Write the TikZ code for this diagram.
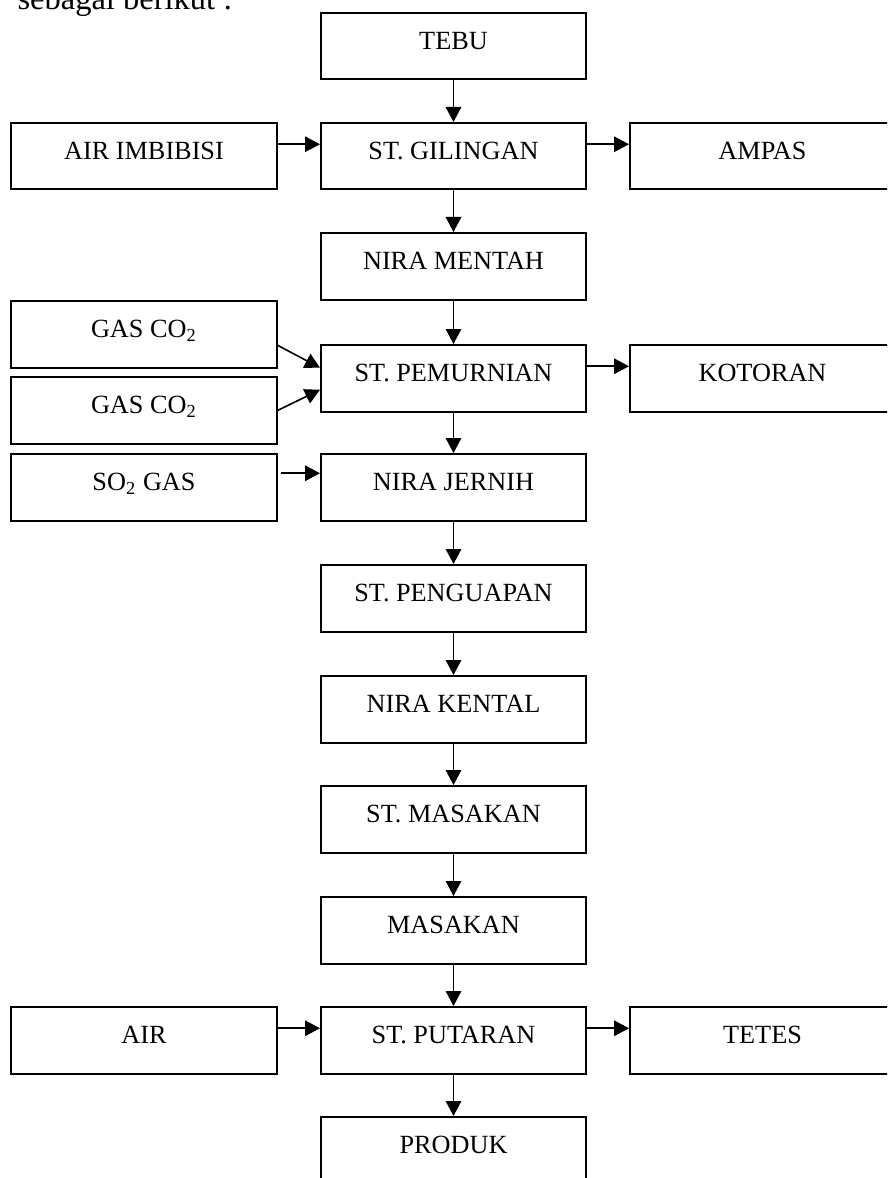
\documentclass[tikz,border=0pt]{standalone}
\usepackage{fontspec}
\setmainfont{Liberation Serif}
\usetikzlibrary{arrows.meta}

\def\boxw{106pt}
\def\rowup{4.8pt}

\begin{document}
\begin{tikzpicture}[x=0.4pt,y=-0.4pt,
        box/.style={draw,line width=0.8pt,minimum width=\boxw,inner sep=0pt,
            text height=14.6pt,text depth=12pt,font=\fontsize{10.5}{12}\selectfont},
        arr/.style={line width=0.65pt,-{Triangle[length=6pt,width=6.2pt]}}]
        \useasboundingbox (0,0) rectangle (887,1178);
        \clip (0,0) rectangle (887,1178);
        % intro line, cut at the top
        \node[anchor=base west,inner sep=0pt,font=\fontsize{13}{15}\selectfont] (intro) at (17,10) {sebagai berikut :};
        % main column
        \node[box] (tebu) at (453.5,46.25) {TEBU};
        \node[box] (gilingan) at (453.5,156.25) {ST. GILINGAN};
        \node[box] (mentah) at (453.5,266.25) {NIRA MENTAH};
        \node[box] (pemurnian) at (453.5,378.25) {ST. PEMURNIAN};
        \node[box] (jernih) at (453.5,487.25) {NIRA JERNIH};
        \node[box] (penguapan) at (453.5,598.25) {ST. PENGUAPAN};
        \node[box] (kental) at (453.5,709.25) {NIRA KENTAL};
        \node[box] (stmasakan) at (453.5,819.25) {ST. MASAKAN};
        \node[box] (masakan) at (453.5,930.25) {MASAKAN};
        \node[box] (putaran) at (453.5,1040.25) {ST. PUTARAN};
        \node[box] (produk) at (453.5,1150.25) {PRODUK};
        % inputs on the left
        \node[box] (imbibisi) at (144,156.25) {AIR IMBIBISI};
        \node[box] (gasa) at (144,334.25) {GAS CO\textsubscript{2}};
        \node[box] (gasb) at (144,410.5) {GAS CO\textsubscript{2}};
        \node[box] (sogas) at (144,487.25) {SO\textsubscript{2} GAS};
        \node[box] (air) at (144,1040.25) {AIR};
        % outputs on the right
        \node[box] (ampas) at (762.5,156.25) {AMPAS};
        \node[box] (kotoran) at (762.5,378.25) {KOTORAN};
        \node[box] (tetes) at (762.5,1040.25) {TETES};
        % flow down the column
        \foreach \a/\b in {tebu/gilingan,gilingan/mentah,mentah/pemurnian,pemurnian/jernih,
            jernih/penguapan,penguapan/kental,kental/stmasakan,stmasakan/masakan,
            masakan/putaran,putaran/produk}
            \draw[arr] (\a) -- (\b);
        % side flows
        \draw[arr] ([yshift=\rowup]imbibisi.east) -- ([yshift=\rowup]gilingan.west);
        \draw[arr] ([yshift=\rowup]gilingan.east) -- ([yshift=\rowup]ampas.west);
        \draw[arr] ([yshift=-4.4pt]gasa.east) -- ([yshift=4.2pt]pemurnian.west);
        \draw[arr] (gasb.east) -- ([yshift=-4.6pt]pemurnian.west);
        \draw[arr] ([yshift=\rowup]pemurnian.east) -- ([yshift=\rowup]kotoran.west);
        \draw[arr] ([xshift=1.2pt,yshift=5.6pt]sogas.east) -- ([yshift=5.6pt]jernih.west);
        \draw[arr] ([yshift=\rowup]air.east) -- ([yshift=\rowup]putaran.west);
        \draw[arr] ([yshift=\rowup]putaran.east) -- ([yshift=\rowup]tetes.west);
\end{tikzpicture}
\end{document}
